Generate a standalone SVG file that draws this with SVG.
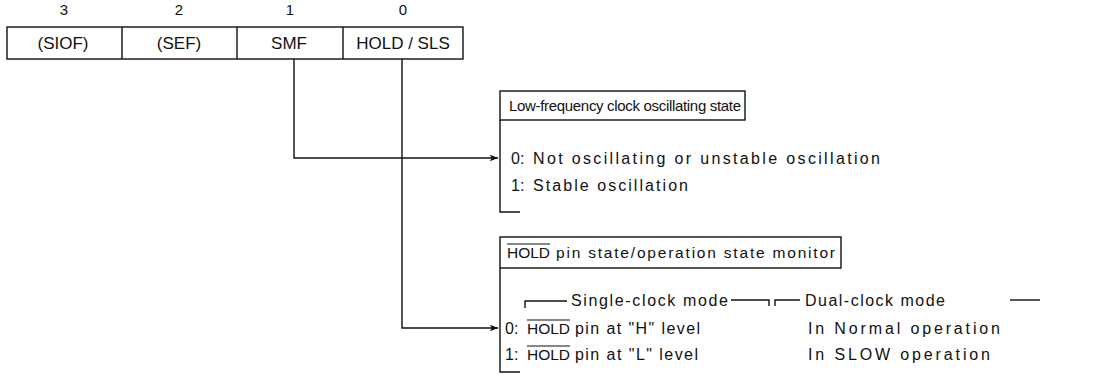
<svg xmlns="http://www.w3.org/2000/svg" width="1104" height="375" viewBox="0 0 1104 375">
<defs>
<style>
text{font-family:"Liberation Sans","DejaVu Sans",sans-serif;fill:#111;}
.t{font-size:16px;}
.h{font-size:15.5px;}
.h1{font-size:15px;}
.c{font-size:17px;text-anchor:middle;}
.d{font-size:15px;text-anchor:middle;}
.ln{stroke:#111;stroke-width:1.4;fill:none;}
.ol{stroke:#111;stroke-width:1.1;}
</style>
<marker id="ah" viewBox="0 0 10 10" refX="10" refY="5" markerWidth="11" markerHeight="8" markerUnits="userSpaceOnUse" orient="auto">
<path d="M0,1 L10,5 L0,9 L2,5 Z" fill="#111"/>
</marker>
</defs>
<rect width="1104" height="375" fill="#fff"/>
<g id="register">
<text class="d" x="64" y="15">3</text>
<text class="d" x="179" y="15">2</text>
<text class="d" x="290" y="15">1</text>
<text class="d" x="403" y="15">0</text>
<rect class="ln" x="7" y="27" width="456" height="32"/>
<line class="ln" x1="122" y1="27" x2="122" y2="59"/>
<line class="ln" x1="237" y1="27" x2="237" y2="59"/>
<line class="ln" x1="343" y1="27" x2="343" y2="59"/>
<text class="c" x="63" y="49">(SIOF)</text>
<text class="c" x="179" y="49">(SEF)</text>
<text class="c" x="289" y="49">SMF</text>
<text class="c" x="403" y="49">HOLD / SLS</text>
</g>
<g id="connectors">
<polyline class="ln" points="294,59 294,158 498,158" marker-end="url(#ah)"/>
<polyline class="ln" points="402,59 402,328 498,328" marker-end="url(#ah)"/>
</g>
<g id="smf-box">
<rect class="ln" x="500" y="91" width="245" height="29"/>
<polyline class="ln" points="500,120 500,212 520,212"/>
<text class="h1" x="509" y="111" textLength="232" lengthAdjust="spacing">Low-frequency clock oscillating state</text>
<text class="t" x="511" y="164">0:</text>
<text class="t" x="533" y="164" textLength="347" lengthAdjust="spacing">Not oscillating or unstable oscillation</text>
<text class="t" x="511" y="191">1:</text>
<text class="t" x="533" y="191" textLength="155" lengthAdjust="spacing">Stable oscillation</text>
</g>
<g id="hold-box">
<rect class="ln" x="500" y="237" width="341" height="31"/>
<polyline class="ln" points="500,268 500,372 520,372"/>
<text class="h" x="507" y="258">HOLD</text>
<line class="ol" x1="507" y1="244" x2="550" y2="244"/>
<text class="h" x="556" y="258" textLength="279" lengthAdjust="spacing">pin state/operation state monitor</text>
<polyline class="ln" points="525,308 525,301 567,301"/>
<text class="t" x="571" y="306" textLength="157" lengthAdjust="spacing">Single-clock mode</text>
<polyline class="ln" points="731,300 769,300 769,306"/>
<polyline class="ln" points="775,306 775,300 800,300"/>
<text class="t" x="805" y="306" textLength="140" lengthAdjust="spacing">Dual-clock mode</text>
<line class="ln" x1="1010" y1="300" x2="1040" y2="300"/>
<text class="t" x="505" y="334">0:</text>
<text class="h" x="527" y="334">HOLD</text>
<line class="ol" x1="527" y1="320" x2="570" y2="320"/>
<text class="t" x="575" y="334" textLength="125" lengthAdjust="spacing">pin at "H" level</text>
<text class="t" x="505" y="360">1:</text>
<text class="h" x="527" y="360">HOLD</text>
<line class="ol" x1="527" y1="346" x2="570" y2="346"/>
<text class="t" x="575" y="360" textLength="123" lengthAdjust="spacing">pin at "L" level</text>
<text class="t" x="808" y="334" textLength="192" lengthAdjust="spacing">In Normal operation</text>
<text class="t" x="808" y="360" textLength="182" lengthAdjust="spacing">In SLOW operation</text>
</g>
</svg>
